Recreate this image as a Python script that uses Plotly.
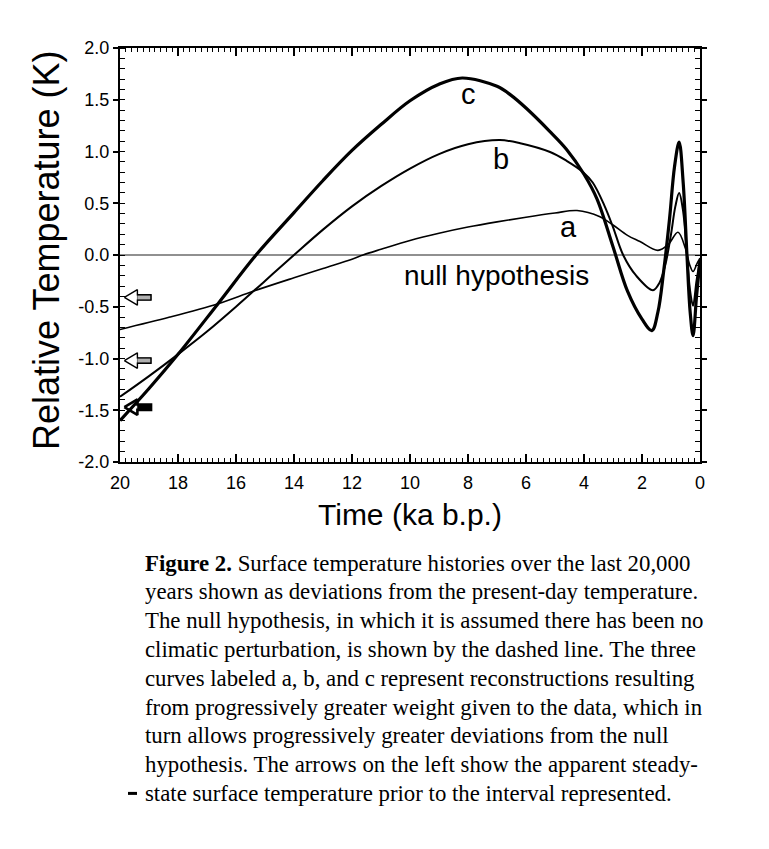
import plotly.graph_objects as go

# ---------------- data ----------------
time_a = [20, 18.28, 16.62, 15.41, 14, 13, 12, 11.62, 11, 10, 9, 8, 7, 6, 5,
          4.24, 3.45, 3.0, 2.5, 2.07, 1.45, 1.1, 0.76, 0.5, 0.35, 0.24, 0.1, 0.0]
temp_a = [-0.72, -0.60, -0.47, -0.35, -0.22, -0.13, -0.04, 0.0, 0.055, 0.14, 0.21, 0.27,
          0.32, 0.365, 0.405, 0.43, 0.37, 0.29, 0.19, 0.13, 0.045, 0.10, 0.22, 0.06,
          -0.10, -0.16, -0.08, -0.03]

time_b = [20, 19, 18, 17, 16, 15, 14, 13, 12, 11, 10, 9, 8, 6.9, 6.2,
          5.17, 4.6, 4.03, 3.7, 3.3, 3.0, 2.65, 2.2, 1.62, 1.4, 1.2, 1.0, 0.85, 0.72,
          0.58, 0.45, 0.34, 0.24, 0.12, 0.0]
temp_b = [-1.37, -1.17, -0.96, -0.74, -0.50, -0.25, 0.0, 0.245, 0.47, 0.665, 0.835,
          0.975, 1.07, 1.11, 1.08, 0.995, 0.91, 0.80, 0.70, 0.48, 0.27, 0.0, -0.20,
          -0.34, -0.27, -0.10, 0.20, 0.47, 0.60, 0.42, 0.0, -0.35, -0.49, -0.25, -0.05]

time_c = [20, 19, 18, 16.62, 15.31, 14.0, 13.0, 12.0, 11.0, 10.0, 9.0, 8.2, 7.0,
          6.5, 6.0, 5.2, 4.6, 4.0, 3.55, 3.0, 2.5, 2.0, 1.66, 1.45, 1.25, 1.05, 0.88,
          0.72, 0.58, 0.45, 0.34, 0.24, 0.12, 0.0]
temp_c = [-1.60, -1.29, -0.96, -0.47, 0.0, 0.41, 0.72, 1.01, 1.26, 1.49, 1.65, 1.71,
          1.63, 1.54, 1.42, 1.20, 1.02, 0.78, 0.54, 0.08, -0.35, -0.62, -0.73, -0.55,
          -0.15, 0.35, 0.85, 1.09, 0.70, 0.0, -0.55, -0.78, -0.40, -0.05]

null_time = [20, 0]
null_temp = [0, 0]

arrow_levels = [-0.41, -1.02, -1.47]   # steady-state temperatures for a, b, c

curve_labels = ["a", "b", "c"]
label_time = [4.55, 6.86, 8.0]
label_temp = [0.27, 0.93, 1.56]

x_tick_vals = [20, 18, 16, 14, 12, 10, 8, 6, 4, 2, 0]
x_tick_text = ["20", "18", "16", "14", "12", "10", "8", "6", "4", "2", "0"]
y_tick_vals = [-2.0, -1.5, -1.0, -0.5, 0.0, 0.5, 1.0, 1.5, 2.0]
y_tick_text = ["-2.0", "-1.5", "-1.0", "-0.5", "0.0", "0.5", "1.0", "1.5", "2.0"]

caption_lines = [
    "<b>Figure 2.</b> Surface temperature histories over the last 20,000",
    "years shown as deviations from the present-day temperature.",
    "The null hypothesis, in which it is assumed there has been no",
    "climatic perturbation, is shown by the dashed line. The three",
    "curves labeled a, b, and c represent reconstructions resulting",
    "from progressively greater weight given to the data, which in",
    "turn allows progressively greater deviations from the null",
    "hypothesis. The arrows on the left show the apparent steady-",
    "state surface temperature prior to the interval represented.",
]

# ---------------- layout geometry (reference pixels) ----------------
OFF = 8                       # page body margin
W, H = 769 - 2 * OFF, 849 - 2 * OFF
L, R, T, B = 120, 700, 48, 462


def px(x):
    return (x - L) / (R - L)


def py(y):
    return (B - y) / (B - T)


SANS = "Liberation Sans, Arial, sans-serif"
SERIF = "Liberation Serif, Times New Roman, serif"

fig = go.Figure()

# arrows on the left
tip, head_len, head_half, shaft_half, tail = 19.85, 0.45, 0.075, 0.026, 18.93
for i, lvl in enumerate(arrow_levels):
    hx = tip - head_len
    xs = [tip, hx, hx, tail, tail, hx, hx, tip]
    ys = [lvl, lvl + head_half, lvl + shaft_half, lvl + shaft_half,
          lvl - shaft_half, lvl - shaft_half, lvl - head_half, lvl]
    thick = (i == 2)
    fig.add_trace(go.Scatter(x=[hx, tail, tail, hx, hx],
                             y=[lvl + shaft_half, lvl + shaft_half, lvl - shaft_half,
                                lvl - shaft_half, lvl + shaft_half],
                             mode="lines", fill="toself",
                             fillcolor="black" if thick else "#b0b0b0",
                             line=dict(color="black", width=0.5),
                             hoverinfo="skip", showlegend=False))
    fig.add_trace(go.Scatter(x=xs, y=ys, mode="lines",
                             line=dict(color="black", width=2.6 if thick else 1.4),
                             hoverinfo="skip", showlegend=False))

# null hypothesis line
fig.add_trace(go.Scatter(x=null_time, y=null_temp, mode="lines",
                         line=dict(color="#222", width=1.2), showlegend=False))

# reconstructions
for tx, ty, w in [(time_a, temp_a, 1.6), (time_b, temp_b, 2.0), (time_c, temp_c, 3.2)]:
    fig.add_trace(go.Scatter(x=tx, y=ty, mode="lines",
                             line=dict(color="black", width=w, shape="spline",
                                       smoothing=1.0),
                             showlegend=False))

annotations = []
for t, xv, yv in zip(curve_labels, label_time, label_temp):
    annotations.append(dict(x=xv, y=yv, xref="x", yref="y", text=t, showarrow=False,
                            xanchor="center", yanchor="middle",
                            font=dict(family=SANS, size=29, color="black")))
annotations.append(dict(x=7.03, y=-0.20, xref="x", yref="y", text="null hypothesis",
                        showarrow=False, xanchor="center", yanchor="middle",
                        font=dict(family=SANS, size=28, color="black")))

# axis titles
annotations.append(dict(x=px(410), y=py(514), xref="paper", yref="paper",
                        xanchor="center", yanchor="middle",
                        text="Time (ka b.p.)", showarrow=False,
                        font=dict(family=SANS, size=30, color="black")))
annotations.append(dict(x=px(47), y=py(250), xref="paper", yref="paper",
                        xanchor="center", yanchor="middle",
                        text="Relative Temperature (K)", textangle=-90, showarrow=False,
                        font=dict(family=SANS, size=36, color="black")))

# caption
for k, line in enumerate(caption_lines):
    annotations.append(dict(x=px(143), y=py(563 + 28.8 * k), xref="paper", yref="paper",
                            xanchor="left", yanchor="middle", text=line, showarrow=False,
                            font=dict(family=SERIF, size=22.8, color="black")))

shapes = [dict(type="line", xref="paper", yref="paper",
               x0=px(128), x1=px(137), y0=py(563 + 28.8 * 8), y1=py(563 + 28.8 * 8),
               line=dict(color="black", width=3))]

fig.update_layout(
    width=W, height=H,
    margin=dict(l=L - OFF, r=W - (R - OFF), t=T - OFF, b=H - (B - OFF), pad=0),
    paper_bgcolor="white", plot_bgcolor="white",
    showlegend=False,
    annotations=annotations,
    shapes=shapes,
    xaxis=dict(range=[20, 0], autorange=False, tickmode="array",
               tickvals=x_tick_vals, ticktext=x_tick_text,
               ticks="inside", ticklen=8, tickwidth=1.5, tickcolor="black",
               minor=dict(dtick=0.2, tick0=0, ticks="inside", ticklen=4, tickwidth=1,
                          tickcolor="black", showgrid=False),
               showline=True, linewidth=2, linecolor="black", mirror="ticks",
               showgrid=False, zeroline=False, ticklabelstandoff=3,
               tickfont=dict(family=SANS, size=18, color="black")),
    yaxis=dict(range=[-2, 2], autorange=False, tickmode="array",
               tickvals=y_tick_vals, ticktext=y_tick_text,
               ticks="outside", ticklen=5, tickwidth=1.5, tickcolor="black",
               minor=dict(dtick=0.1, tick0=0, ticks="inside", ticklen=5, tickwidth=1,
                          tickcolor="black", showgrid=False),
               showline=True, linewidth=2, linecolor="black", mirror="ticks",
               showgrid=False, zeroline=False,
               tickfont=dict(family=SANS, size=18, color="black")),
)

fig.write_html("out.html")
